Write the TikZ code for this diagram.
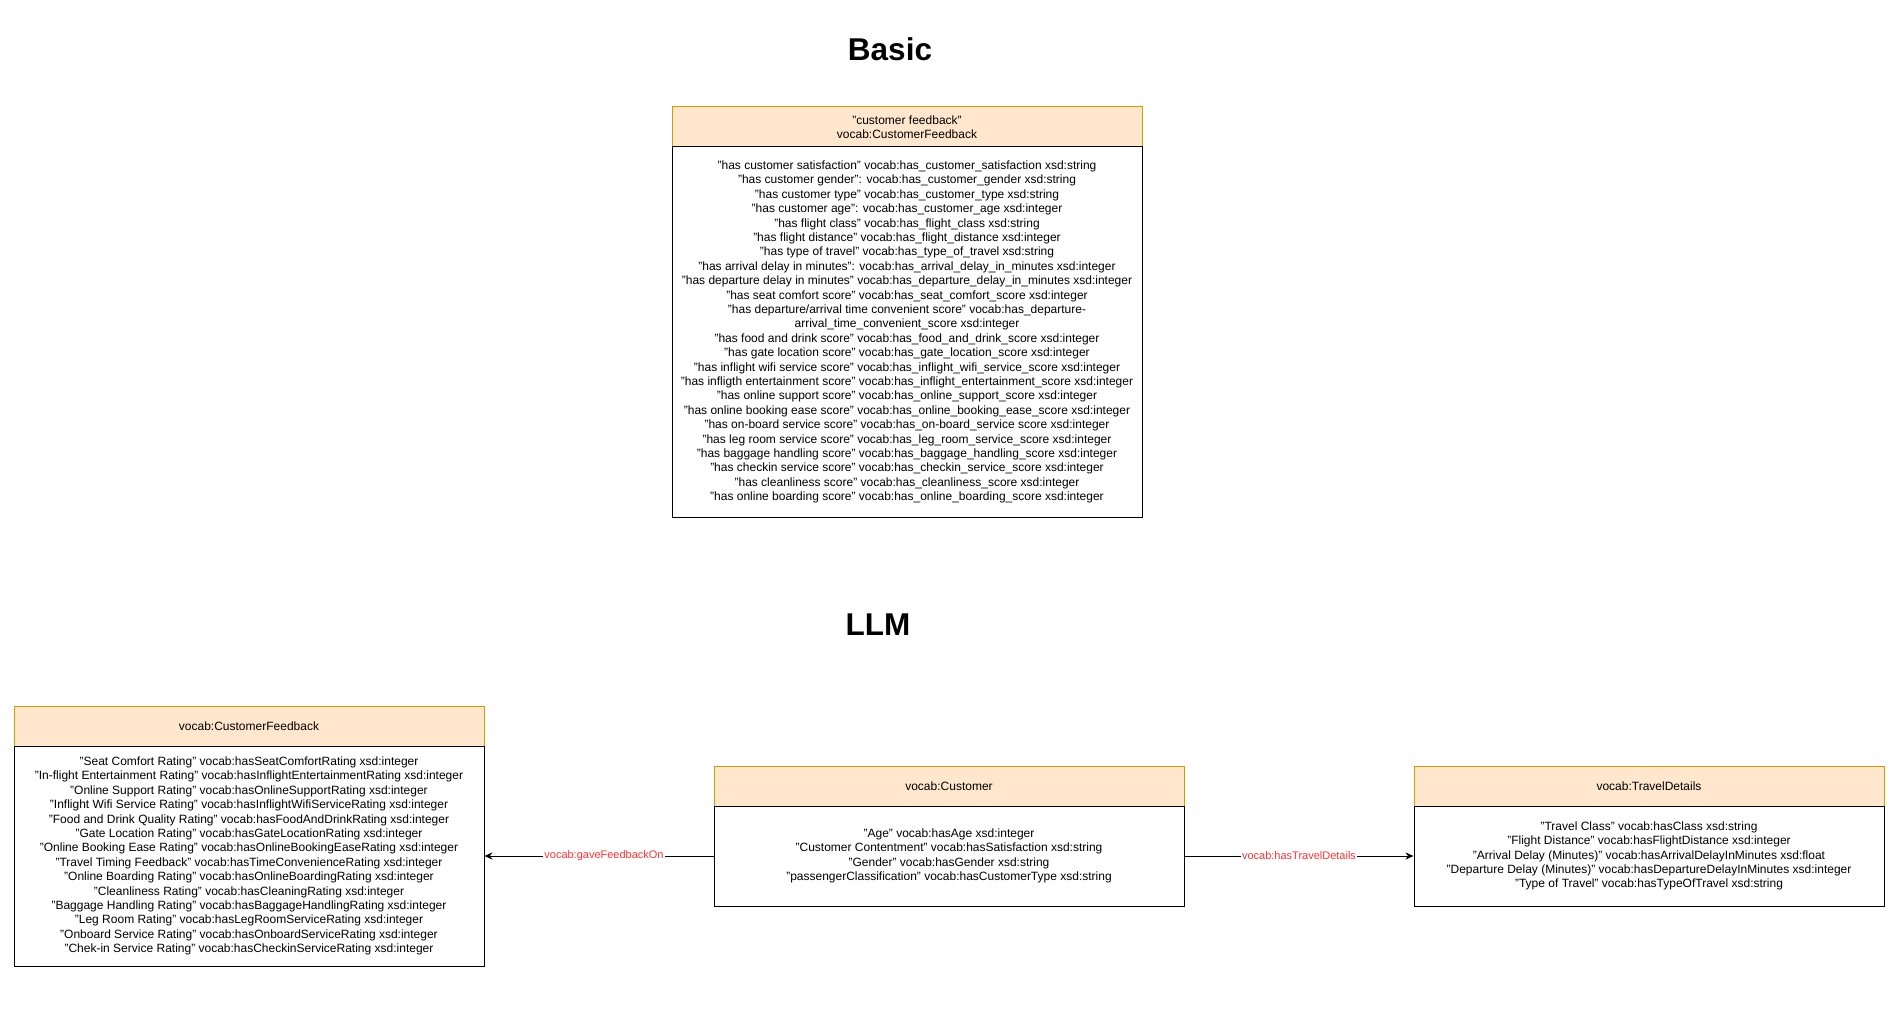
\documentclass[tikz,border=0pt]{standalone}
\usepackage{fontspec}
\setmainfont{Liberation Sans}
\usetikzlibrary{arrows.meta}
\definecolor{hdrfill}{HTML}{FFE6CC}
\definecolor{hdrline}{HTML}{D79B00}
\definecolor{lblred}{HTML}{FF3333}
\begin{document}
\begin{tikzpicture}[x=1pt,y=-1pt,
  hdr/.style={draw=hdrline,fill=hdrfill,line width=1pt,minimum width=470pt,minimum height=40pt,inner sep=0pt,align=center,font=\fontsize{12}{14.4}\selectfont},
  bodybox/.style={draw=black,fill=white,line width=1pt,minimum width=470pt,inner sep=0pt,align=center,font=\fontsize{12}{14.4}\selectfont},
  topbody/.style={bodybox,font=\fontsize{12}{14.4}\selectfont},
  title/.style={font=\fontsize{31.5}{36}\selectfont\bfseries,anchor=base,inner sep=0pt},
  conn/.style={draw=black,line width=1pt,-{Stealth[length=8pt,width=7pt]}},
  elabel/.style={text=lblred,fill=white,inner sep=1pt,font=\fontsize{11}{13}\selectfont}
]
\useasboundingbox (0,0) rectangle (1890,1024);
\fill[white] (0,0) rectangle (1890,1024);

\node[title] (tbasic) at (890,61) {Basic};
\node[title] (tllm) at (878,635) {LLM};

% Basic box
\node[hdr] (bhdr) at (907,127) {"customer feedback"\\vocab:CustomerFeedback};
\node[topbody,minimum height=370pt] (bbody) at (907,332) {%
"has customer satisfaction" vocab:has\_customer\_satisfaction xsd:string\\
"has customer gender": vocab:has\_customer\_gender xsd:string\\
"has customer type" vocab:has\_customer\_type xsd:string\\
"has customer age": vocab:has\_customer\_age xsd:integer\\
"has flight class" vocab:has\_flight\_class xsd:string\\
"has flight distance" vocab:has\_flight\_distance xsd:integer\\
"has type of travel" vocab:has\_type\_of\_travel xsd:string\\
"has arrival delay in minutes": vocab:has\_arrival\_delay\_in\_minutes xsd:integer\\
"has departure delay in minutes" vocab:has\_departure\_delay\_in\_minutes xsd:integer\\
"has seat comfort score" vocab:has\_seat\_comfort\_score xsd:integer\\
"has departure/arrival time convenient score" vocab:has\_departure-\\
arrival\_time\_convenient\_score xsd:integer\\
"has food and drink score" vocab:has\_food\_and\_drink\_score xsd:integer\\
"has gate location score" vocab:has\_gate\_location\_score xsd:integer\\
"has inflight wifi service score" vocab:has\_inflight\_wifi\_service\_score xsd:integer\\
"has infligth entertainment score" vocab:has\_inflight\_entertainment\_score xsd:integer\\
"has online support score" vocab:has\_online\_support\_score xsd:integer\\
"has online booking ease score" vocab:has\_online\_booking\_ease\_score xsd:integer\\
"has on-board service score" vocab:has\_on-board\_service score xsd:integer\\
"has leg room service score" vocab:has\_leg\_room\_service\_score xsd:integer\\
"has baggage handling score" vocab:has\_baggage\_handling\_score xsd:integer\\
"has checkin service score" vocab:has\_checkin\_service\_score xsd:integer\\
"has cleanliness score" vocab:has\_cleanliness\_score xsd:integer\\
"has online boarding score" vocab:has\_online\_boarding\_score xsd:integer};

% LLM: CustomerFeedback
\node[hdr] (fhdr) at (249,726) {vocab:CustomerFeedback};
\node[bodybox,minimum height=220pt] (fbody) at (249,856) {%
"Seat Comfort Rating" vocab:hasSeatComfortRating xsd:integer\\
"In-flight Entertainment Rating" vocab:hasInflightEntertainmentRating xsd:integer\\
"Online Support Rating" vocab:hasOnlineSupportRating xsd:integer\\
"Inflight Wifi Service Rating" vocab:hasInflightWifiServiceRating xsd:integer\\
"Food and Drink Quality Rating" vocab:hasFoodAndDrinkRating xsd:integer\\
"Gate Location Rating" vocab:hasGateLocationRating xsd:integer\\
"Online Booking Ease Rating" vocab:hasOnlineBookingEaseRating xsd:integer\\
"Travel Timing Feedback" vocab:hasTimeConvenienceRating xsd:integer\\
"Online Boarding Rating" vocab:hasOnlineBoardingRating xsd:integer\\
"Cleanliness Rating" vocab:hasCleaningRating xsd:integer\\
"Baggage Handling Rating" vocab:hasBaggageHandlingRating xsd:integer\\
"Leg Room Rating" vocab:hasLegRoomServiceRating xsd:integer\\
"Onboard Service Rating" vocab:hasOnboardServiceRating xsd:integer\\
"Chek-in Service Rating" vocab:hasCheckinServiceRating xsd:integer};

% LLM: Customer
\node[hdr] (chdr) at (949,786) {vocab:Customer};
\node[bodybox,minimum height=100pt] (cbody) at (949,856) {%
"Age" vocab:hasAge xsd:integer\\
"Customer Contentment" vocab:hasSatisfaction xsd:string\\
"Gender" vocab:hasGender xsd:string\\
"passengerClassification" vocab:hasCustomerType xsd:string};

% LLM: TravelDetails
\node[hdr] (thdr) at (1649,786) {vocab:TravelDetails};
\node[bodybox,minimum height=100pt] (tbody) at (1649,856) {%
"Travel Class" vocab:hasClass xsd:string\\
"Flight Distance" vocab:hasFlightDistance xsd:integer\\
"Arrival Delay (Minutes)" vocab:hasArrivalDelayInMinutes xsd:float\\
"Departure Delay (Minutes)" vocab:hasDepartureDelayInMinutes xsd:integer\\
"Type of Travel" vocab:hasTypeOfTravel xsd:string};

% connectors
\draw[conn] (cbody.west) -- node[elabel,xshift=5pt] {vocab:gaveFeedbackOn} (fbody.east);
\draw[conn] (cbody.east) -- node[elabel] {vocab:hasTravelDetails} (tbody.west);
\end{tikzpicture}
\end{document}
